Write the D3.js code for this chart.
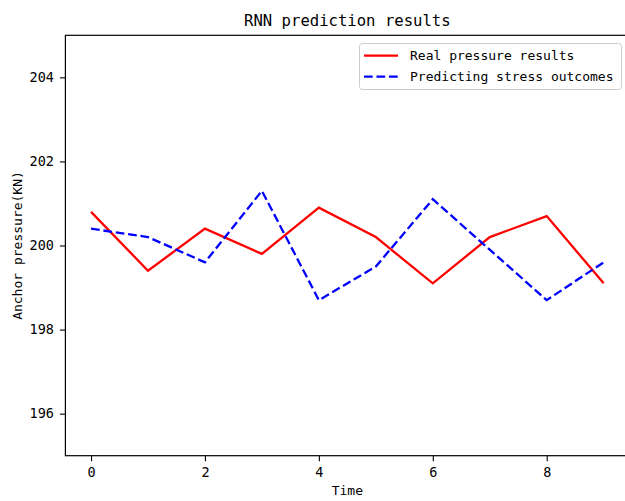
<!DOCTYPE html>
<html>
<head>
<meta charset="utf-8">
<script src="https://cdn.jsdelivr.net/npm/d3@7"></script>
<style>
  html, body { margin: 0; padding: 0; background: #fff; }
  svg { display: block; }
  text { font-family: "DejaVu Sans Mono", "Liberation Mono", monospace; fill: #000; }
</style>
</head>
<body>
<svg id="chart" width="625" height="501"></svg>
<script>
// Time steps and the two pressure series (KN)
const timeSteps = [0, 1, 2, 3, 4, 5, 6, 7, 8, 9];
const realPressure = [200.8, 199.4, 200.4, 199.8, 200.9, 200.2, 199.1, 200.2, 200.7, 199.1];
const predictedPressure = [200.4, 200.2, 199.6, 201.3, 198.7, 199.5, 201.1, 199.9, 198.7, 199.6];

const xTicks = [0, 2, 4, 6, 8];
const yTicks = [196, 198, 200, 202, 204];

const titleText = "RNN prediction results";
const xLabelText = "Time";
const yLabelText = "Anchor pressure(KN)";
const seriesNames = ["Real pressure results", "Predicting stress outcomes"];

const svg = d3.select("#chart");

const plot = { left: 65.4, right: 629.3, top: 35.3, bottom: 455.7 };

const x = d3.scaleLinear().domain([-0.45, 9.45]).range([plot.left, plot.right]);
const y = d3.scaleLinear().domain([195, 205]).range([plot.bottom, plot.top]);

// Axes
const xAxis = d3.axisBottom(x).tickValues(xTicks).tickFormat(d3.format("d"))
  .tickSize(5.5).tickPadding(6.5);
const yAxis = d3.axisLeft(y).tickValues(yTicks).tickFormat(d3.format("d"))
  .tickSize(5.5).tickPadding(6);

const gx = svg.append("g").attr("transform", `translate(0,${plot.bottom})`).call(xAxis);
const gy = svg.append("g").attr("transform", `translate(${plot.left},0)`).call(yAxis);
[gx, gy].forEach(g => {
  g.select(".domain").remove();
  g.selectAll(".tick line").attr("stroke", "#000").attr("stroke-width", 1.1);
  g.selectAll(".tick text")
    .style("font-family", '"DejaVu Sans Mono", monospace')
    .style("font-size", "13.5px").attr("fill", "#000");
});

// Series lines
const line = d3.line().x((d, i) => x(timeSteps[i])).y(d => y(d));

svg.append("path").datum(realPressure)
  .attr("d", line).attr("fill", "none")
  .attr("stroke", "#ff0000").attr("stroke-width", 2.3)
  .attr("stroke-linejoin", "miter");

svg.append("path").datum(predictedPressure)
  .attr("d", line).attr("fill", "none")
  .attr("stroke", "#0000ff").attr("stroke-width", 2.3)
  .attr("stroke-dasharray", "8.7,3.8");

// Axes frame
svg.append("rect")
  .attr("x", plot.left).attr("y", plot.top)
  .attr("width", plot.right - plot.left).attr("height", plot.bottom - plot.top)
  .attr("fill", "none").attr("stroke", "#000").attr("stroke-width", 1.2);

// Title and axis labels
const cx = (plot.left + plot.right) / 2;
svg.append("text").attr("x", cx).attr("y", 25.5)
  .attr("text-anchor", "middle").style("font-size", "15.6px").text(titleText);

svg.append("text").attr("x", cx).attr("y", 495)
  .attr("text-anchor", "middle").style("font-size", "13px").text(xLabelText);

svg.append("text")
  .attr("transform", `translate(22,${(plot.top + plot.bottom) / 2}) rotate(-90)`)
  .attr("text-anchor", "middle").style("font-size", "13px").text(yLabelText);

// Legend
const legend = svg.append("g");
legend.append("rect")
  .attr("x", 359.5).attr("y", 43.5).attr("width", 262).attr("height", 46)
  .attr("rx", 3).attr("fill", "#fff").attr("fill-opacity", 0.8)
  .attr("stroke", "#cccccc").attr("stroke-width", 1);

const legendItems = [
  { name: seriesNames[0], color: "#ff0000", dash: null, y: 55.7 },
  { name: seriesNames[1], color: "#0000ff", dash: "8.7,3.8", y: 76.7 }
];
legendItems.forEach(item => {
  legend.append("line")
    .attr("x1", 364).attr("x2", 398).attr("y1", item.y).attr("y2", item.y)
    .attr("stroke", item.color).attr("stroke-width", 2.3)
    .attr("stroke-dasharray", item.dash);
  legend.append("text").attr("x", 410).attr("y", item.y + 4.5)
    .style("font-size", "13px").text(item.name);
});
</script>
</body>
</html>
